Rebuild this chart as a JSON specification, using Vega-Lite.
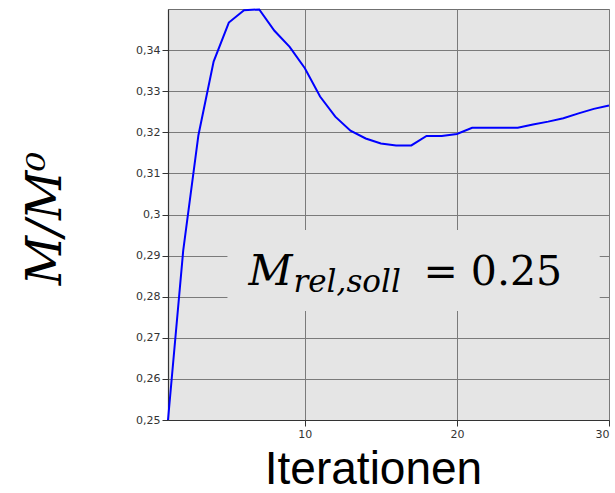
{
  "$schema": "https://vega.github.io/schema/vega-lite/v6.json",
  "width": 441,
  "height": 411,
  "autosize": {"type": "none"},
  "padding": {"left": 168, "top": 9, "right": 6, "bottom": 73},
  "background": "white",
  "data": {"values": [
    {"it": 1, "m": 0.25}, {"it": 2, "m": 0.2912}, {"it": 3, "m": 0.3193}, {"it": 4, "m": 0.3372},
    {"it": 5, "m": 0.3467}, {"it": 6, "m": 0.3497}, {"it": 7, "m": 0.3499}, {"it": 8, "m": 0.3447},
    {"it": 9, "m": 0.3408}, {"it": 10, "m": 0.3356}, {"it": 11, "m": 0.3287}, {"it": 12, "m": 0.3238},
    {"it": 13, "m": 0.3204}, {"it": 14, "m": 0.3185}, {"it": 15, "m": 0.3173}, {"it": 16, "m": 0.3168},
    {"it": 17, "m": 0.3168}, {"it": 18, "m": 0.3191}, {"it": 19, "m": 0.3191}, {"it": 20, "m": 0.3196},
    {"it": 21, "m": 0.3211}, {"it": 22, "m": 0.3211}, {"it": 23, "m": 0.3211}, {"it": 24, "m": 0.3211},
    {"it": 25, "m": 0.3219}, {"it": 26, "m": 0.3226}, {"it": 27, "m": 0.3234}, {"it": 28, "m": 0.3246},
    {"it": 29, "m": 0.3257}, {"it": 30, "m": 0.3265}
  ]},
  "config": {
    "view": {"fill": "#e5e5e5", "stroke": "#707070", "strokeWidth": 1},
    "axis": {
      "gridColor": "#7a7a7a", "gridWidth": 1, "gridOpacity": 1,
      "domainColor": "#333333", "domainWidth": 1.2,
      "tickColor": "#333333", "tickSize": 6,
      "labelFont": "DejaVu Sans", "labelFontSize": 11, "labelColor": "#333333", "labelPadding": 2
    }
  },
  "layer": [
    {
      "mark": {"type": "line", "color": "#0000ff", "strokeWidth": 2},
      "encoding": {
        "x": {
          "field": "it", "type": "quantitative",
          "scale": {"domain": [1, 30], "nice": false, "zero": false},
          "axis": {
            "values": [10, 20, 30], "title": "Iterationen",
            "titleFont": "Liberation Sans", "titleFontSize": 46, "titleFontWeight": "normal",
            "titleColor": "#000000", "titleX": 205, "titleY": 63, "titleAlign": "center", "titleBaseline": "alphabetic"
          }
        },
        "y": {
          "field": "m", "type": "quantitative",
          "scale": {"domain": [0.25, 0.35], "nice": false, "zero": false},
          "axis": {
            "values": [0.25, 0.26, 0.27, 0.28, 0.29, 0.3, 0.31, 0.32, 0.33, 0.34],
            "labelExpr": "replace(format(datum.value, '.2~f'), '.', ',')",
            "title": "M/M⁰",
            "titleFont": "DejaVu Serif", "titleFontStyle": "italic", "titleFontSize": 48, "titleFontWeight": "normal",
            "titleColor": "#000000", "titleX": -108, "titleY": 209, "titleAlign": "center", "titleBaseline": "alphabetic", "titleAngle": 270
          }
        }
      }
    },
    {
      "data": {"values": [{}]},
      "mark": {"type": "rect", "fill": "#e5e5e5"},
      "encoding": {
        "x": {"datum": 4.91, "type": "quantitative"},
        "x2": {"datum": 29.39},
        "y": {"datum": 0.2765, "type": "quantitative"},
        "y2": {"datum": 0.2962}
      }
    },
    {
      "data": {"values": [{}]},
      "mark": {"type": "text", "text": "M", "font": "DejaVu Serif", "fontStyle": "italic", "fontSize": 43, "align": "left", "baseline": "alphabetic", "color": "#000000"},
      "encoding": {
        "x": {"datum": 6.3, "type": "quantitative"},
        "y": {"datum": 0.28285, "type": "quantitative"}
      }
    },
    {
      "data": {"values": [{}]},
      "mark": {"type": "text", "text": "rel,soll", "font": "DejaVu Serif", "fontStyle": "italic", "fontSize": 31, "align": "left", "baseline": "alphabetic", "color": "#000000"},
      "encoding": {
        "x": {"datum": 9.25, "type": "quantitative"},
        "y": {"datum": 0.28114, "type": "quantitative"}
      }
    },
    {
      "data": {"values": [{}]},
      "mark": {"type": "text", "text": "= 0.25", "font": "DejaVu Serif", "fontSize": 41, "align": "left", "baseline": "alphabetic", "color": "#000000"},
      "encoding": {
        "x": {"datum": 17.8, "type": "quantitative"},
        "y": {"datum": 0.28285, "type": "quantitative"}
      }
    }
  ]
}
